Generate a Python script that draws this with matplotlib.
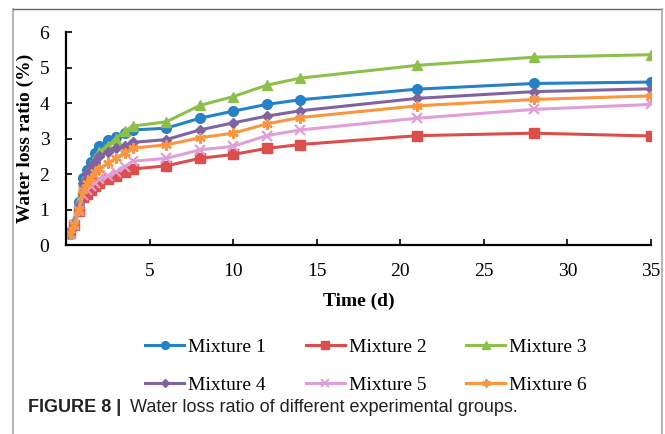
import matplotlib
matplotlib.use("Agg")
import matplotlib.pyplot as plt
from matplotlib.lines import Line2D

days = [0.25, 0.5, 0.75, 1, 1.25, 1.5, 1.75, 2, 2.5, 3, 3.5, 4, 6, 8, 10, 12, 14, 21, 28, 35]

mixture1 = [0.30, 0.60, 1.20, 1.90, 2.12, 2.35, 2.58, 2.80, 2.95, 3.05, 3.15, 3.24, 3.29, 3.57, 3.77, 3.96, 4.09, 4.39, 4.55, 4.59]
mixture2 = [0.35, 0.55, 0.95, 1.35, 1.45, 1.55, 1.65, 1.75, 1.85, 1.95, 2.05, 2.14, 2.23, 2.44, 2.55, 2.72, 2.83, 3.08, 3.15, 3.07]
mixture3 = [0.35, 0.70, 1.25, 1.80, 2.00, 2.25, 2.45, 2.62, 2.80, 3.00, 3.20, 3.35, 3.47, 3.93, 4.18, 4.50, 4.70, 5.06, 5.29, 5.36]
mixture4 = [0.30, 0.60, 1.10, 1.75, 2.00, 2.20, 2.35, 2.50, 2.62, 2.72, 2.80, 2.89, 2.97, 3.24, 3.44, 3.63, 3.78, 4.13, 4.32, 4.40]
mixture5 = [0.30, 0.55, 0.95, 1.40, 1.55, 1.65, 1.75, 1.85, 1.95, 2.05, 2.20, 2.36, 2.44, 2.68, 2.78, 3.08, 3.24, 3.57, 3.82, 3.96]
mixture6 = [0.30, 0.55, 1.00, 1.55, 1.75, 1.90, 2.05, 2.15, 2.30, 2.45, 2.60, 2.73, 2.82, 3.02, 3.15, 3.41, 3.59, 3.92, 4.10, 4.20]

labels = ["Mixture 1", "Mixture 2", "Mixture 3", "Mixture 4", "Mixture 5", "Mixture 6"]
series = [mixture1, mixture2, mixture3, mixture4, mixture5, mixture6]
colors = ["#2681C6", "#DC4E4B", "#8DBF4B", "#8064A2", "#E09FD6", "#F9963F"]
markers = ["o", "s", "^", "D", "x", (6, 2, 0)]
msizes = [7, 7, 7.5, 5.5, 6.5, 7.5]

xticks = [5, 10, 15, 20, 25, 30, 35]
yticks = [0, 1, 2, 3, 4, 5, 6]

serif = ["Liberation Serif", "DejaVu Serif"]
sans = ["Liberation Sans", "DejaVu Sans"]

fig = plt.figure(figsize=(6.65, 4.34), dpi=100)
ax = fig.add_axes([66/665, 1-245/434, (651-66)/665, (245-32)/434])

for vals, lab, c, m, ms in zip(series, labels, colors, markers, msizes):
    mew = 1.6 if (m == "x" or isinstance(m, tuple)) else 1.0
    ax.plot(days, vals, color=c, lw=2.2, marker=m, ms=ms, mec=c, mfc=c, mew=mew, label=lab)

ax.set_xlim(0, 35)
ax.set_ylim(0, 6)
ax.set_xticks(xticks)
ax.set_yticks(yticks)
for s in ["top", "right"]:
    ax.spines[s].set_visible(False)
for s in ["left", "bottom"]:
    ax.spines[s].set_linewidth(1.6)
ax.tick_params(direction="in", length=4, width=1.2, labelsize=14)
ax.tick_params(axis="x", pad=13)
ax.tick_params(axis="y", pad=12)
for t in ax.get_xticklabels() + ax.get_yticklabels():
    t.set_fontfamily(serif)

ax.set_ylabel("Water loss ratio (%)", fontsize=14, fontweight="bold", family=serif, labelpad=4)
ax.set_xlabel("Time (d)", fontsize=14, fontweight="bold", family=serif, labelpad=9)

leg_handles = [Line2D([0], [0], color=c, lw=2.2, marker=m, ms=ms*0.8, mec=c, mfc=c,
                      mew=(1.4 if (m == "x" or isinstance(m, tuple)) else 1.0))
               for c, m, ms in zip(colors, markers, msizes)]
order = [0, 3, 1, 4, 2, 5]
fig.legend([leg_handles[i] for i in order], [labels[i] for i in order],
           loc="center", bbox_to_anchor=(366/665, 1-366/434),
           ncol=3, frameon=False, prop={"family": serif, "size": 14},
           handlelength=2.0, handletextpad=0.2, columnspacing=2.05, labelspacing=1.05)

# frame around figure
fc = "#a8a8a8"
fig.add_artist(Line2D([13/665, 13/665], [0, 1-9/434], color=fc, lw=1.2, transform=fig.transFigure))
fig.add_artist(Line2D([13/665, 662/665], [1-9/434, 1-9/434], color="#666666", lw=1.0, transform=fig.transFigure))
fig.add_artist(Line2D([662/665, 662/665], [0, 1-9/434], color=fc, lw=1.2, transform=fig.transFigure))

fig.text(28/665, 1-408/434, "FIGURE 8 |", fontsize=13, fontweight="bold",
         family=sans, va="center", ha="left", color="#222222")
fig.text(130/665, 1-408/434, "Water loss ratio of different experimental groups.", fontsize=13,
         family=sans, va="center", ha="left", color="#222222")

fig.savefig("out.png", dpi=100)
